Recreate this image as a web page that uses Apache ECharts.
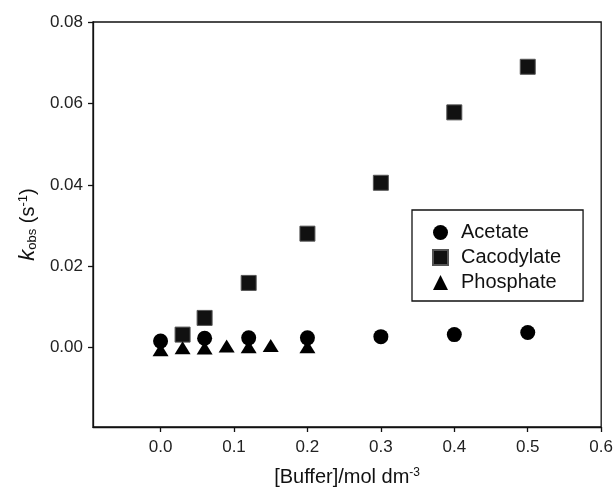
<!DOCTYPE html>
<html>
<head>
<meta charset="utf-8">
<script src="https://cdn.jsdelivr.net/npm/echarts@6/dist/echarts.min.js"></script>
<style>html,body{margin:0;padding:0;background:#fff}#c{width:616px;height:492px}</style>
</head>
<body>
<div id="c"></div>
<script>
const seriesNames = ['Acetate', 'Cacodylate', 'Phosphate'];
const acetateX = [0.0, 0.06, 0.12, 0.2, 0.3, 0.4, 0.5];
const acetateY = [0.0016, 0.0023, 0.0024, 0.0024, 0.0027, 0.0032, 0.0037];
const cacodylateX = [0.03, 0.06, 0.12, 0.2, 0.3, 0.4, 0.5];
const cacodylateY = [0.0032, 0.0073, 0.0159, 0.028, 0.0405, 0.0578, 0.069];
const phosphateX = [0.0, 0.03, 0.06, 0.09, 0.12, 0.15, 0.2];
const phosphateY = [-0.0005, 0.0, -0.0001, 0.0004, 0.0002, 0.0005, 0.0002];
const xTicks = [0, 0.1, 0.2, 0.3, 0.4, 0.5, 0.6];
const yTicks = [0, 0.02, 0.04, 0.06, 0.08];

const zip = (xs, ys) => xs.map((x, i) => [x, ys[i]]);
const font = 'Liberation Sans, Arial, sans-serif';

const chart = echarts.init(document.getElementById('c'));
chart.setOption({
  animation: false,
  backgroundColor: '#fff',
  grid: { left: 93, top: 22, right: 12, bottom: 63, show: true, borderColor: '#111', borderWidth: 1.3 },
  legend: {
    orient: 'vertical', left: 412, top: 210,
    borderColor: '#111', borderWidth: 1.3,
    padding: [12, 22, 8, 20],
    itemWidth: 15, itemHeight: 15, itemGap: 4,
    itemStyle: { opacity: 1 },
    textStyle: { fontFamily: font, fontSize: 20, color: '#111', lineHeight: 21, padding: [0, 0, 0, 8] },
    data: [
      { name: seriesNames[0], icon: 'circle' },
      { name: seriesNames[1], icon: 'rect' },
      { name: seriesNames[2], icon: 'triangle' }
    ]
  },
  xAxis: {
    type: 'value', min: -0.092, max: 0.6,
    splitLine: { show: false },
    axisLine: { show: true, onZero: false, lineStyle: { color: '#111', width: 1.3 } },
    axisTick: { show: true, length: 5, customValues: xTicks, lineStyle: { color: '#111', width: 1.3 } },
    axisLabel: { customValues: xTicks, margin: 12, fontFamily: font, fontSize: 17, color: '#222',
      formatter: v => v.toFixed(1) },
    name: '[Buffer]/mol dm{sup|-3}',
    nameLocation: 'middle', nameGap: 40,
    nameTextStyle: { fontFamily: font, fontSize: 20, color: '#111',
      rich: { sup: { fontFamily: font, fontSize: 12, color: '#111', verticalAlign: 'top', padding: [0, 0, 8, 0] } } }
  },
  yAxis: {
    type: 'value', min: -0.0195, max: 0.08,
    splitLine: { show: false },
    axisLine: { show: true, onZero: false, lineStyle: { color: '#111', width: 1.3 } },
    axisTick: { show: true, length: 5, customValues: yTicks, lineStyle: { color: '#111', width: 1.3 } },
    axisLabel: { customValues: yTicks, margin: 10, fontFamily: font, fontSize: 17, color: '#222',
      formatter: v => v.toFixed(2) },
    name: '{k|k}{sub|obs} (s{sup|-1})',
    nameLocation: 'middle', nameGap: 52, nameRotate: 90,
    nameTextStyle: { fontFamily: font, fontSize: 20, color: '#111',
      rich: {
        k: { fontFamily: font, fontSize: 22, fontStyle: 'italic', color: '#111' },
        sub: { fontFamily: font, fontSize: 13, color: '#111', verticalAlign: 'bottom', padding: [6, 0, 0, 0] },
        sup: { fontFamily: font, fontSize: 13, color: '#111', verticalAlign: 'top', padding: [0, 0, 8, 0] }
      } }
  },
  series: [
    { name: seriesNames[0], type: 'scatter', symbol: 'circle', symbolSize: 15, z: 3,
      itemStyle: { color: '#000', opacity: 1 }, data: zip(acetateX, acetateY) },
    { name: seriesNames[1], type: 'scatter', symbol: 'rect', symbolSize: 15, z: 2,
      itemStyle: { color: '#111', borderColor: '#555', borderWidth: 1, opacity: 1 }, data: zip(cacodylateX, cacodylateY) },
    { name: seriesNames[2], type: 'scatter', symbol: 'triangle', symbolSize: [16, 13], z: 4,
      itemStyle: { color: '#000', opacity: 1 }, data: zip(phosphateX, phosphateY) }
  ]
});
</script>
</body>
</html>
